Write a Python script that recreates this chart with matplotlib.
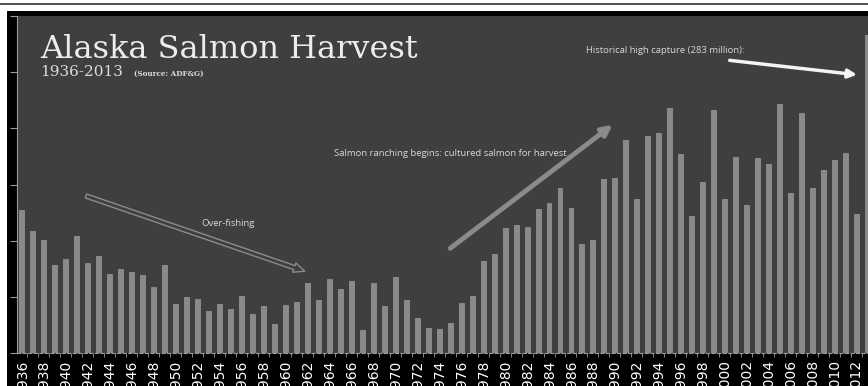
import numpy as np
import matplotlib
matplotlib.use("Agg")
import matplotlib.pyplot as plt
from matplotlib.patches import Rectangle

# Alaska salmon harvest, millions of fish
years = list(range(1936, 2014))
harvest = [
    127, 109, 101, 78, 84, 104, 80, 86, 70, 74.5,
    72, 69, 58.5, 78, 44, 49.5, 48, 37, 44, 39.5,
    50.5, 34.5, 42, 26, 42.5, 45.5, 62, 47, 65.5, 56.7,
    64.4, 20.8, 62, 41.5, 68, 47, 31.5, 22, 21.6, 26.7,
    44.5, 50.4, 82, 88, 111, 113.6, 112, 128, 133.8, 147,
    129, 97, 101, 154.6, 155.7, 189.6, 136.8, 193, 195.5, 217.8,
    176.8, 122, 152, 216.6, 137.3, 174.7, 132, 173.5, 168, 221.6,
    142, 213.3, 147, 162.6, 171.8, 177.7, 123.4, 283,
]
tick_labels = [str(y) for y in years[::2]]

W, H = 868, 386
fig = plt.figure(figsize=(W / 100, H / 100), dpi=100, facecolor="white")

# slide frame: thin rule at top, black background under the chart
fig.add_artist(Rectangle((0, 1 - 5 / H), 1, 1.5 / H, transform=fig.transFigure,
                         color="#555555", lw=0, zorder=-10))
fig.add_artist(Rectangle((7 / W, 0), 1, 1 - 11 / H, transform=fig.transFigure,
                         color="black", lw=0, zorder=-10))

ax = fig.add_axes([17 / W, 33 / H, (W - 17) / W, (353 - 16) / H])
ax.set_facecolor("#3f3f3f")

x = np.arange(len(years))
ax.bar(x, harvest, width=0.45, color="#8a8a8a", edgecolor="#a8a8a8", linewidth=0.4)

ax.set_xlim(-0.45, len(years) - 0.95)
ax.set_ylim(0, 300)

ax.set_xticks(x[::2])
ax.set_xticklabels(tick_labels, rotation=90, color="white", fontsize=10,
                   va="top", ha="center")
ax.set_xticks(x[:-1] + 0.5, minor=True)
ax.tick_params(axis="x", which="major", length=0, pad=5)
ax.tick_params(axis="x", which="minor", length=3, color="#9a9a9a", direction="out")
ax.set_yticks(np.arange(0, 301, 50))
ax.set_yticklabels([])
ax.tick_params(axis="y", length=5, color="#9a9a9a", direction="out")
for side in ["top", "right"]:
    ax.spines[side].set_visible(False)
ax.spines["left"].set_color("#9a9a9a")
ax.spines["bottom"].set_color("#9a9a9a")
ax.spines["bottom"].set_linestyle((0, (3, 2)))

# titles
ax.text(1.7, 263, "Alaska Salmon Harvest", family="DejaVu Serif", fontsize=23,
        color="#ececec", va="baseline")
ax.text(1.7, 247, "1936-2013", family="DejaVu Serif", fontsize=11,
        color="#dcdcdc", va="baseline")
ax.text(10.2, 247, "(Source: ADF&G)", family="DejaVu Serif", fontsize=5.2,
        color="#dcdcdc", va="baseline", fontweight="bold")

# annotations
ann_font = dict(family="Open Sans", fontsize=6.8, color="#d8d8d8")
ax.annotate("", xy=(26, 72), xytext=(5.6, 140.6),
            arrowprops=dict(arrowstyle="simple,head_length=0.8,head_width=0.7,tail_width=0.3",
                            fc="#3f3f3f", ec="#8c8c8c", lw=1))
ax.text(18.8, 115.7, "Over-fishing", ha="center", va="center", **ann_font)

ax.annotate("", xy=(54, 204.7), xytext=(38.8, 91.7),
            arrowprops=dict(arrowstyle="-|>,head_length=0.6,head_width=0.3",
                            color="#8a8a8a", lw=3.5))
ax.text(39, 178, "Salmon ranching begins: cultured salmon for harvest",
        ha="center", va="center", **ann_font)

ax.annotate("", xy=(76.3, 247.4), xytext=(64.2, 260.8),
            arrowprops=dict(arrowstyle="-|>,head_length=0.5,head_width=0.25",
                            color="#f4f4f4", lw=2.5))
ax.text(58.6, 269.7, "Historical high capture (283 million):",
        ha="center", va="center", **ann_font)

fig.savefig("out.png", dpi=100, facecolor=fig.get_facecolor())
